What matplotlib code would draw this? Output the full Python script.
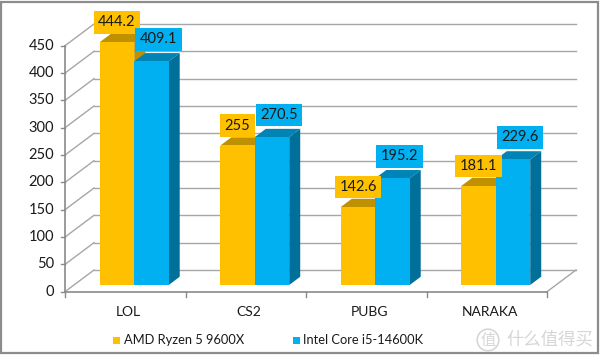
import matplotlib
matplotlib.use("Agg")
import matplotlib.pyplot as plt
from matplotlib.patches import Polygon, Rectangle
from matplotlib.lines import Line2D

# ---- data ----
categories = ["LOL", "CS2", "PUBG", "NARAKA"]
series_names = ["AMD Ryzen 5 9600X", "Intel Core i5-14600K"]
amd_values = [444.2, 255, 142.6, 181.1]
intel_values = [409.1, 270.5, 195.2, 229.6]
y_ticks = [0, 50, 100, 150, 200, 250, 300, 350, 400, 450]

# ---- style ----
FONT = ["Lato", "DejaVu Sans"]
front_cols = ["#FFC000", "#00B0F0"]
top_cols = ["#BF9000", "#0084B6"]
side_cols = ["#BF9000", "#00709A"]
grid_col = "#A6A6A6"
axis_col = "#8A8A8A"

W, H = 600, 355
fig = plt.figure(figsize=(W / 100, H / 100), dpi=100)
fig.patch.set_facecolor("white")

# front plane of the 3D plot area in pixels
left_px, right_px = 65, 547
zero_px, top_px = 291.7, 45.7
ax = fig.add_axes([left_px / W, (H - zero_px) / H, (right_px - left_px) / W, (zero_px - top_px) / H])
ax.set_xlim(-0.5, len(categories) - 0.5)
ax.set_ylim(0, 450)
ax.axis("off")

# pixel scale of the data axes
p0 = ax.transData.transform((0, 0))
p1 = ax.transData.transform((1, 1))
sx, sy = p1[0] - p0[0], p1[1] - p0[1]

DEPTH_DX, DEPTH_DY = 29.0, 21.7   # full depth offset in pixels
BAR_D0, BAR_D1 = 0.31, 0.69       # bar depth span (fraction of full depth)
BAR_W = 0.286                     # bar width in category units


def P(x, y, d=0.0, ox=0.0, oy=0.0):
    """data point (x, y) pushed back by depth fraction d, plus pixel offset"""
    return (x + (d * DEPTH_DX + ox) / sx, y + (d * DEPTH_DY + oy) / sy)


xmin, xmax = ax.get_xlim()

# back wall gridlines and left wall diagonals
for v in y_ticks:
    ax.add_line(Line2D(*zip(P(xmin, v, 1), P(xmax, v, 1)), color=grid_col, lw=1, clip_on=False, zorder=1))
    ax.add_line(Line2D(*zip(P(xmin, v, 0), P(xmin, v, 1)), color=grid_col, lw=1, clip_on=False, zorder=1))
    ax.add_line(Line2D(*zip(P(xmin, v, 0, -4), P(xmin, v, 0)), color=axis_col, lw=1, clip_on=False, zorder=2))
    ax.text(*P(xmin, v, 0, -11), f"{v}", ha="right", va="center", fontsize=10.5,
            family=FONT, color="#1a1a1a", clip_on=False)

# floor right edge, front axis lines
ax.add_line(Line2D(*zip(P(xmax, 0, 0), P(xmax, 0, 1)), color=grid_col, lw=1, clip_on=False, zorder=1))
ax.add_line(Line2D([xmin, xmax], [0, 0], color=axis_col, lw=1.2, clip_on=False, zorder=2))
ax.add_line(Line2D([xmin, xmin], [0, 450], color=axis_col, lw=1.2, clip_on=False, zorder=2))
for i in range(len(categories) + 1):
    xb = xmin + i
    ax.add_line(Line2D(*zip(P(xb, 0), P(xb, 0, 0, 0, -5)), color=axis_col, lw=1, clip_on=False, zorder=2))

for i, c in enumerate(categories):
    ax.text(*P(i, 0, 0, 3, -20), c, ha="center", va="center", fontsize=10,
            family=FONT, color="#1a1a1a", clip_on=False)

# 3D bars
series = [amd_values, intel_values]
label_off = [(0, 20), (7, 22)]
z = 5
for i in range(len(categories)):
    for s, vals in enumerate(series):
        v = vals[i]
        x0 = i - BAR_W + s * BAR_W
        x1 = x0 + BAR_W
        top = Polygon([P(x0, v, BAR_D0), P(x1, v, BAR_D0), P(x1, v, BAR_D1), P(x0, v, BAR_D1)],
                      closed=True, facecolor=top_cols[s], edgecolor="none", clip_on=False, zorder=z)
        side = Polygon([P(x1, 0, BAR_D0), P(x1, v, BAR_D0), P(x1, v, BAR_D1), P(x1, 0, BAR_D1)],
                       closed=True, facecolor=side_cols[s], edgecolor="none", clip_on=False, zorder=z)
        ax.add_patch(top)
        ax.add_patch(side)
        bx, by = P(x0, 0, BAR_D0)
        ax.bar(bx, v, width=BAR_W, bottom=by, align="edge", color=front_cols[s],
               edgecolor="none", clip_on=False, zorder=z + 0.5)
        ox, oy = label_off[s]
        ax.text(*P((x0 + x1) / 2, v, BAR_D0, ox, oy), f"{v:g}", ha="center", va="center",
                fontsize=10.5, family=FONT, color="#1a1a1a", clip_on=False, zorder=50,
                bbox=dict(boxstyle="square,pad=0.3", facecolor=front_cols[s], edgecolor="none"))
        z += 1

# legend
leg_items = [(113, 124), (292.5, 303)]
for s, (mx, tx) in enumerate(leg_items):
    fig.patches.append(Rectangle((mx / W, 1 - 343.5 / H), 7 / W, 7 / H, transform=fig.transFigure,
                                 facecolor=front_cols[s], edgecolor="none"))
    fig.text(tx / W, 1 - 340 / H, series_names[s], ha="left", va="center", fontsize=9.3,
             family=FONT, color="#1a1a1a")

# watermark
wm_col = "#D6D6D6"
fig.text(488 / W, 1 - 340 / H, "值", ha="center", va="center", fontsize=11,
         family=["Noto Sans CJK SC", "DejaVu Sans"], color=wm_col,
         bbox=dict(boxstyle="circle,pad=0.15", facecolor="none", edgecolor=wm_col, lw=1.2))
fig.text(550 / W, 1 - 340 / H, "什么值得买", ha="center", va="center", fontsize=12.5,
         family=["Noto Sans CJK SC", "DejaVu Sans"], color=wm_col)

# outer frame
fig.patches.append(Rectangle((1 / W, 2 / H), 597 / W, 351 / H, transform=fig.transFigure,
                             facecolor="none", edgecolor="#8C8C8C", lw=1.6))

fig.savefig("out.png", dpi=100)
